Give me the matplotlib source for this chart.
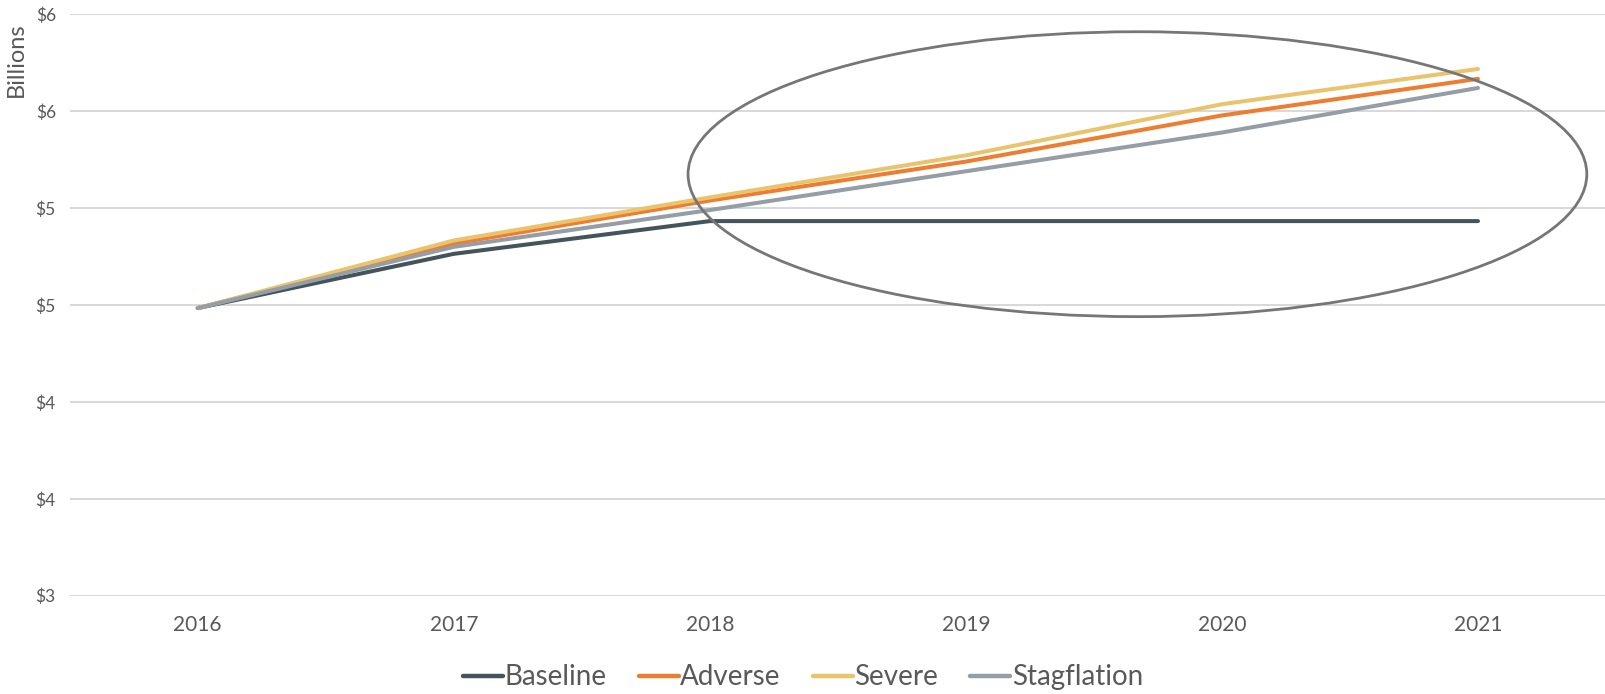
import numpy as np
import matplotlib.pyplot as plt
from matplotlib.patches import Ellipse
from matplotlib.ticker import FuncFormatter

# data (billions)
years = [2016, 2017, 2018, 2019, 2020, 2021]
baseline = [4.484, 4.764, 4.933, 4.933, 4.933, 4.933]
adverse = [4.484, 4.817, 5.039, 5.240, 5.478, 5.667]
severe = [4.484, 4.833, 5.055, 5.272, 5.536, 5.718]
stagflation = [4.484, 4.800, 4.990, 5.190, 5.390, 5.620]

series = [('Baseline', baseline, '#44545a'),
          ('Adverse', adverse, '#ed7d31'),
          ('Severe', severe, '#e9c46c'),
          ('Stagflation', stagflation, '#959da6')]

plt.rcParams['font.family'] = ['Lato', 'DejaVu Sans']
txt = '#595959'

fig = plt.figure(figsize=(16.06, 6.94), dpi=100)
ax = fig.add_axes([0.0434, 0.1416, 0.9566, 0.8378])

x = np.arange(len(years))
for name, vals, col in series:
    ax.plot(x, vals, color=col, lw=2.9, solid_capstyle='round', label=name, zorder=3)

# highlight ellipse
ell = Ellipse((3.67, 5.175), 3.51, 1.47, fill=False, edgecolor='#767676', lw=2.0, zorder=4)
ax.add_patch(ell)

ax.set_xlim(-0.5, 5.5)
ax.set_ylim(3.0, 6.0)
ax.set_yticks(np.arange(3.0, 6.01, 0.5))
ax.yaxis.set_major_formatter(FuncFormatter(lambda v, p: '$%d' % int(v + 0.5)))
ax.set_xticks(x)
ax.set_xticklabels([str(y) for y in years])
ax.grid(axis='y', color='#d9d9d9', lw=1.5)
ax.set_axisbelow(True)
for s in ax.spines.values():
    s.set_visible(False)
ax.tick_params(length=0, colors=txt)
ax.tick_params(axis='y', labelsize=12.5, pad=10)
ax.tick_params(axis='x', labelsize=15, pad=14)
ax.set_ylabel('Billions', color=txt, fontsize=17)
ax.yaxis.label.set_va('center')
ax.yaxis.set_label_coords(-0.035, 0.922)

leg = fig.legend(loc='center', bbox_to_anchor=(0.5, 0.024), ncol=4, frameon=False,
                 fontsize=20, handlelength=1.45, handletextpad=0.05, columnspacing=1.15)
for t in leg.get_texts():
    t.set_color(txt)
for h in leg.get_lines():
    h.set_linewidth(3.2)

fig.savefig('out.png', dpi=100)
